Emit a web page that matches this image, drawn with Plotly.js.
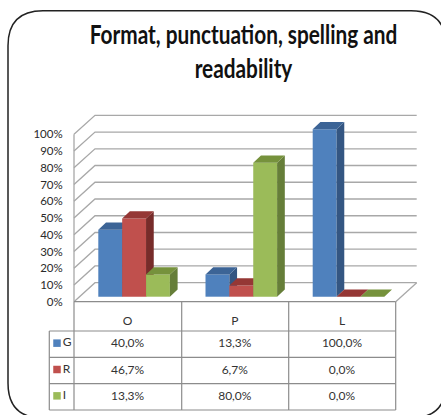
<!DOCTYPE html>
<html><head><meta charset="utf-8">
<script src="https://cdn.plot.ly/plotly-3.0.1.min.js"></script>
<style>html,body{margin:0;padding:0;background:#fff}#c{width:441px;height:415px}</style>
</head><body><div id="c"></div>
<script>
const categories = ['O','P','L'];
const seriesNames = ['G','R','I'];
const valuesG = [40.0,13.3,100.0];
const valuesR = [46.7,6.7,0.0];
const valuesI = [13.3,80.0,0.0];
const tickValues = [0,10,20,30,40,50,60,70,80,90,100];
const tickLabels = ['0%','10%','20%','30%','40%','50%','60%','70%','80%','90%','100%'];
const colFront = ['#4F81BD','#C0504D','#9BBB59'];
const colTop = ['#3C6496','#953735','#76923C'];
const colSide = ['#345682','#772C2A','#667E39'];

const W=441,H=415;
const pxPerCat=107.2, pxPerPct=1.674, x0px=127.6, y0px=301.7;
const X=p=>(p-x0px)/pxPerCat, Y=p=>(y0px-p)/pxPerPct;
const xRange=[X(0),X(W)], yRange=[Y(H),Y(0)];
const series=[valuesG,valuesR,valuesI];

const barW=23.87/pxPerCat, groupStart=(98.3-x0px)/pxPerCat;
const barBase=5/pxPerPct, ddx=7.7/pxPerCat, ddy=7.3/pxPerPct;
const wallDx=21/pxPerCat, wallDy=19/pxPerPct;
const wallL=X(74), wallR=X(395.7);

const traces=[];
series.forEach((vals,s)=>{
  const ax=s===0?{xaxis:'x',yaxis:'y'}:{xaxis:'x'+(s+1),yaxis:'y'+(s+1)};
  const off=groupStart+s*barW;
  traces.push(Object.assign({type:'bar',name:seriesNames[s],x:[0,1,2],y:vals,base:[barBase,barBase,barBase],
    width:barW,offset:off,marker:{color:colFront[s],line:{width:0}},showlegend:false,hoverinfo:'none'},ax));
  const sx=[],sy=[],tx=[],ty=[];
  vals.forEach((v,i)=>{
    const l=i+off,r=l+barW,b=barBase,t=barBase+v;
    sx.push(r,r+ddx,r+ddx,r,r,null); sy.push(b,b+ddy,t+ddy,t,b,null);
    tx.push(l,l+ddx,r+ddx,r,l,null); ty.push(t,t+ddy,t+ddy,t,t,null);
  });
  traces.push(Object.assign({type:'scatter',mode:'lines',x:sx,y:sy,fill:'toself',fillcolor:colSide[s],line:{width:0,color:colSide[s]},showlegend:false,hoverinfo:'none'},ax));
  traces.push(Object.assign({type:'scatter',mode:'lines',x:tx,y:ty,fill:'toself',fillcolor:colTop[s],line:{width:0,color:colTop[s]},showlegend:false,hoverinfo:'none'},ax));
});

// data table
const colEdges=[49.3,74,181.7,288.7,395.7];
const rowEdges=[301.7,331,357.3,383.7,410];
const font='Lato, "Noto Sans", sans-serif';
const tcx=[],tcy=[],tct=[];
categories.forEach((c,i)=>{tcx.push(i);tcy.push(Y((rowEdges[0]+rowEdges[1])/2+6));tct.push(c);});
series.forEach((vals,s)=>vals.forEach((v,i)=>{
  tcx.push(i);tcy.push(Y((rowEdges[s+1]+rowEdges[s+2])/2));tct.push(v.toFixed(1).replace('.',',')+'%');
}));
traces.push({type:'scatter',mode:'text',x:tcx,y:tcy,text:tct,textposition:'middle center',
  textfont:{family:font,size:12,color:'#333'},showlegend:false,hoverinfo:'none',cliponaxis:false});
traces.push({type:'scatter',mode:'markers+text',x:seriesNames.map(()=>X(57)),
  y:seriesNames.map((n,s)=>Y((rowEdges[s+1]+rowEdges[s+2])/2-1)),
  text:seriesNames,textposition:'middle right',textfont:{family:font,size:12,color:'#333'},
  marker:{symbol:'square',size:7.5,color:colFront,line:{width:0}},showlegend:false,hoverinfo:'none'});

const shapes=[];
const gridLine={color:'#A8A8A8',width:1.3};
tickValues.forEach(t=>{
  shapes.push({type:'path',layer:'below',xref:'x',yref:'y',
    path:`M ${wallL} ${t} L ${wallL+wallDx} ${t+wallDy} L ${wallR+wallDx} ${t+wallDy}`,line:gridLine});
});
shapes.push({type:'line',layer:'below',xref:'x',yref:'y',x0:wallL,x1:wallL,y0:0,y1:100,line:gridLine});
shapes.push({type:'line',layer:'below',xref:'x',yref:'y',x0:wallR,x1:wallR+wallDx,y0:0,y1:wallDy,line:gridLine});
const tblLine={color:'#8C8C8C',width:1.2};
colEdges.forEach((c,i)=>shapes.push({type:'line',layer:'below',xref:'x',yref:'y',x0:X(c),x1:X(c),
  y0:Y(i===0?rowEdges[1]:rowEdges[0]),y1:Y(rowEdges[4]),line:tblLine}));
rowEdges.forEach((r,i)=>shapes.push({type:'line',layer:'below',xref:'x',yref:'y',x0:X(i===0?colEdges[1]:colEdges[0]),x1:X(colEdges[4]),
  y0:Y(r),y1:Y(r),line:tblLine}));
// rounded frame
const fl=8,ft=10.7,fr=446,fb=418,rad=35;
const px=p=>p/W, py=p=>1-p/H;
shapes.push({type:'path',layer:'above',xref:'paper',yref:'paper',line:{color:'#222',width:1.5},
  path:`M ${px(fl)} ${py(ft+rad)} Q ${px(fl)} ${py(ft)} ${px(fl+rad)} ${py(ft)} L ${px(fr-rad)} ${py(ft)} Q ${px(fr)} ${py(ft)} ${px(fr)} ${py(ft+rad)} L ${px(fr)} ${py(fb-rad)} Q ${px(fr)} ${py(fb)} ${px(fr-rad)} ${py(fb)} L ${px(fl+rad)} ${py(fb)} Q ${px(fl)} ${py(fb)} ${px(fl)} ${py(fb-rad)} Z`});

const hiddenX={range:xRange,visible:false,fixedrange:true};
const hiddenY={range:yRange,visible:false,fixedrange:true};
const titleCx=243.5, titleSqueeze=0.80;
const layout={
  width:W,height:H,margin:{l:0,r:0,t:0,b:0,pad:0},paper_bgcolor:'#fff',plot_bgcolor:'rgba(0,0,0,0)',showlegend:false,
  title:{text:'Format, punctuation, spelling and<br>readability',x:titleCx/W,xanchor:'center',y:1-44.5/H,yanchor:'top',
    font:{family:font,size:26,color:'#111',weight:700}},
  xaxis:{range:xRange,visible:false,fixedrange:true,domain:[0,1]},
  yaxis:{range:yRange,domain:[0,1],anchor:'free',position:74/W,side:'left',tickmode:'array',tickvals:tickValues,ticktext:tickLabels,
    showgrid:false,zeroline:false,showline:false,ticks:'outside',ticklen:9,tickcolor:'rgba(0,0,0,0)',
    tickfont:{family:font,size:11.5,color:'#2a2a2a'},fixedrange:true},
  xaxis2:Object.assign({overlaying:'x'},hiddenX),
  yaxis2:Object.assign({overlaying:'y'},hiddenY),
  xaxis3:Object.assign({overlaying:'x'},hiddenX),
  yaxis3:Object.assign({overlaying:'y'},hiddenY),
  shapes:shapes
};
Plotly.newPlot('c',traces,layout,{displayModeBar:false,staticPlot:true}).then(gd=>{
  const t=gd.querySelector('.gtitle');
  if(t){const old=t.getAttribute('transform')||'';
    t.setAttribute('transform',`${old} translate(${titleCx},0) scale(${titleSqueeze},1) translate(${-titleCx},0)`);}
});
</script></body></html>
